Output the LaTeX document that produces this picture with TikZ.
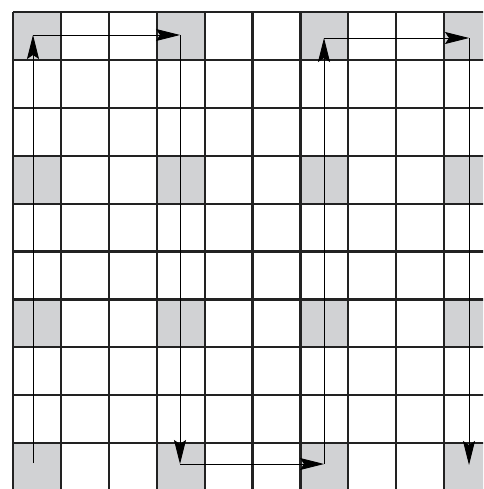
\documentclass[tikz,border=0pt]{standalone}
\usetikzlibrary{arrows.meta}
\definecolor{cellgray}{HTML}{D1D2D4}
\definecolor{gridline}{HTML}{222222}
\tikzset{
  gridstroke/.style={draw=gridline, line width=2.2pt},
  shaded/.style={fill=cellgray},
  pathseg/.style={draw=black, line width=0.9pt, -{Stealth[length=24pt,width=12pt,inset=4pt]}}
}
\begin{document}
\begin{tikzpicture}[x=1pt,y=-1pt]
\useasboundingbox (0,0) rectangle (483,489);
\begin{scope}
\clip (0,0) rectangle (483,489);
\fill[white] (0,0) rectangle (483,489);
% shaded cells
\foreach \c in {0,3,6,9}{
  \foreach \r in {0,3,6,9}{
    \fill[shaded] ({13+47.9*\c},{12+47.9*\r}) rectangle ++(47.9,47.9);
  }
}
% grid lines
\foreach \i in {0,...,10}{
  \draw[gridstroke] ({13+47.9*\i},12) -- ({13+47.9*\i},{12+47.9*10});
  \draw[gridstroke] (13,{12+47.9*\i}) -- ({13+47.9*10},{12+47.9*\i});
}
% path coordinates
\coordinate (p0) at (33,463);
\coordinate (p1) at (33,35);
\coordinate (p2) at (180,35);
\coordinate (p3) at (180,464);
\coordinate (p4) at (324,464);
\coordinate (p5) at (324,38);
\coordinate (p6) at (469,38);
\coordinate (p7) at (469,465);
\draw[pathseg] (p0) -- (p1);
\draw[pathseg] (p1) -- (p2);
\draw[pathseg] (p2) -- (p3);
\draw[pathseg] (p3) -- (p4);
\draw[pathseg] (p4) -- (p5);
\draw[pathseg] (p5) -- (p6);
\draw[pathseg] (p6) -- (p7);
\end{scope}
\end{tikzpicture}
\end{document}
